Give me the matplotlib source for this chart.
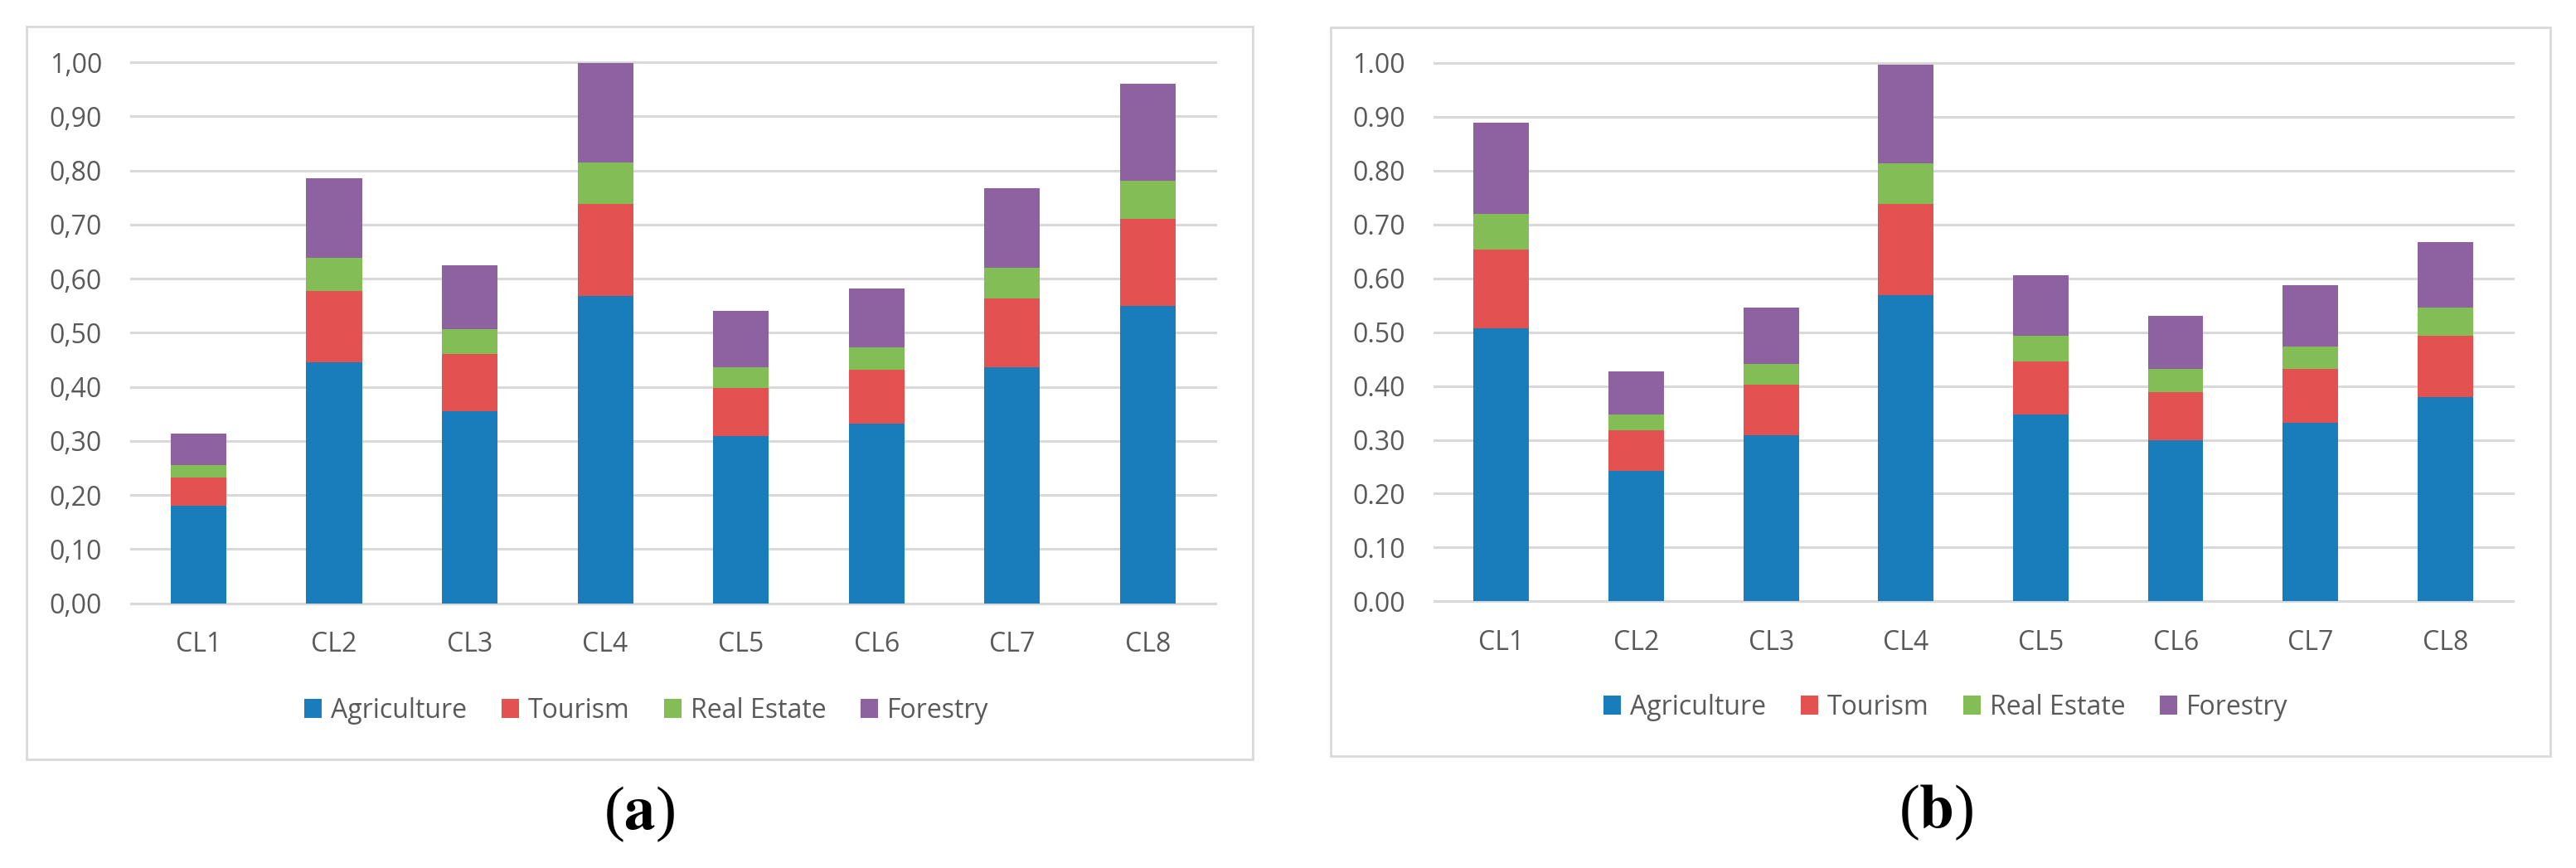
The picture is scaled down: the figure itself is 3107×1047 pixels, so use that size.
import matplotlib
matplotlib.use("Agg")
import matplotlib.pyplot as plt
from matplotlib import font_manager as fm
from matplotlib.patches import Rectangle
import numpy as np

# ---------------- data ----------------
categories = ["CL1", "CL2", "CL3", "CL4", "CL5", "CL6", "CL7", "CL8"]
series_names = ["Agriculture", "Tourism", "Real Estate", "Forestry"]

agri_a = [0.180, 0.445, 0.355, 0.568, 0.309, 0.332, 0.436, 0.549]
tour_a = [0.053, 0.132, 0.105, 0.170, 0.089, 0.100, 0.127, 0.161]
real_a = [0.023, 0.062, 0.047, 0.076, 0.038, 0.041, 0.057, 0.071]
forest_a = [0.057, 0.146, 0.118, 0.184, 0.104, 0.109, 0.147, 0.179]

agri_b = [0.507, 0.243, 0.308, 0.569, 0.347, 0.299, 0.332, 0.379]
tour_b = [0.146, 0.075, 0.095, 0.169, 0.099, 0.090, 0.100, 0.114]
real_b = [0.067, 0.029, 0.038, 0.076, 0.047, 0.043, 0.042, 0.052]
forest_b = [0.169, 0.080, 0.104, 0.183, 0.113, 0.099, 0.113, 0.122]

yticks = [0.0, 0.1, 0.2, 0.3, 0.4, 0.5, 0.6, 0.7, 0.8, 0.9, 1.0]
yticklabels_a = ["0,00", "0,10", "0,20", "0,30", "0,40", "0,50",
                 "0,60", "0,70", "0,80", "0,90", "1,00"]
yticklabels_b = ["0.00", "0.10", "0.20", "0.30", "0.40", "0.50",
                 "0.60", "0.70", "0.80", "0.90", "1.00"]
panel_labels = ["a", "b"]

colors = ["#1a7dbb", "#e35250", "#83bd55", "#8e62a0"]
grid_c = "#d9d9d9"
text_c = "#595959"

# ---------------- fonts ----------------
def pick(cands):
    for c in cands:
        try:
            fm.findfont(fm.FontProperties(family=c), fallback_to_default=False)
            return c
        except Exception:
            continue
    return "DejaVu Sans"

sans = pick(["Liberation Sans Narrow", "Open Sans", "Lato", "Liberation Sans"])
serif = pick(["Liberation Serif", "DejaVu Serif"])
plt.rcParams["font.family"] = [sans, "DejaVu Sans"]
plt.rcParams["mathtext.fontset"] = "stix"

fs = 23

W, H = 3107, 1047
fig = plt.figure(figsize=(W / 100, H / 100), dpi=100)

def px_rect(x0, y0, x1, y1):
    return [x0 / W, 1 - y1 / H, (x1 - x0) / W, (y1 - y0) / H]

panels = [
    dict(ax=px_rect(157.7, 75, 1466, 727.7), frame=(31.6, 31.7, 1511, 916),
         data=[agri_a, tour_a, real_a, forest_a], ylab=yticklabels_a,
         leg=(780, 857), lab=(771, 982)),
    dict(ax=px_rect(1729.5, 76, 3030.8, 725.3), frame=(1604.5, 33, 3075.6, 911.7),
         data=[agri_b, tour_b, real_b, forest_b], ylab=yticklabels_b,
         leg=(2347, 853), lab=(2335, 980)),
]

for p, plab in zip(panels, panel_labels):
    # outer frame
    fx0, fy0, fx1, fy1 = p["frame"]
    fig.patches.append(Rectangle((fx0 / W, 1 - fy1 / H), (fx1 - fx0) / W, (fy1 - fy0) / H,
                                 transform=fig.transFigure, fill=False,
                                 edgecolor=grid_c, linewidth=2.0, zorder=0))
    ax = fig.add_axes(p["ax"])
    x = np.arange(len(categories))
    bottom = np.zeros(len(categories))
    handles = []
    for vals, name, col in zip(p["data"], series_names, colors):
        b = ax.bar(x, vals, width=0.41, bottom=bottom, color=col, label=name,
                   edgecolor="none", zorder=3)
        handles.append(b)
        bottom = bottom + np.array(vals)
    ax.set_xlim(-0.5, 7.5)
    ax.set_ylim(0, 1.0)
    ax.set_yticks(yticks)
    ax.set_yticklabels(p["ylab"])
    ax.set_xticks(x)
    ax.set_xticklabels(categories)
    ax.grid(axis="y", color=grid_c, linewidth=2.2, zorder=0)
    ax.set_axisbelow(True)
    for s in ax.spines.values():
        s.set_visible(False)
    ax.tick_params(axis="both", length=0, labelsize=fs, labelcolor=text_c)
    ax.tick_params(axis="y", pad=25)
    ax.tick_params(axis="x", pad=24)
    for gl in ax.get_ygridlines():
        gl.set_clip_on(False)
    ax.patch.set_alpha(0)

    lx, ly = p["leg"]
    fig.legend(handles, series_names, loc="center",
               bbox_to_anchor=(lx / W, 1 - ly / H), ncol=4, frameon=False,
               fontsize=fs, labelcolor=text_c, handlelength=0.65,
               handleheight=0.75, handletextpad=0.35, columnspacing=1.3)

    tx, ty = p["lab"]
    fig.text(tx / W, 1 - ty / H, "(" + r"$\mathbf{" + plab + "}$" + ")",
             ha="center", va="center", fontsize=54, family=serif, color="black")

fig.savefig("out.png", dpi=100, facecolor="white")
